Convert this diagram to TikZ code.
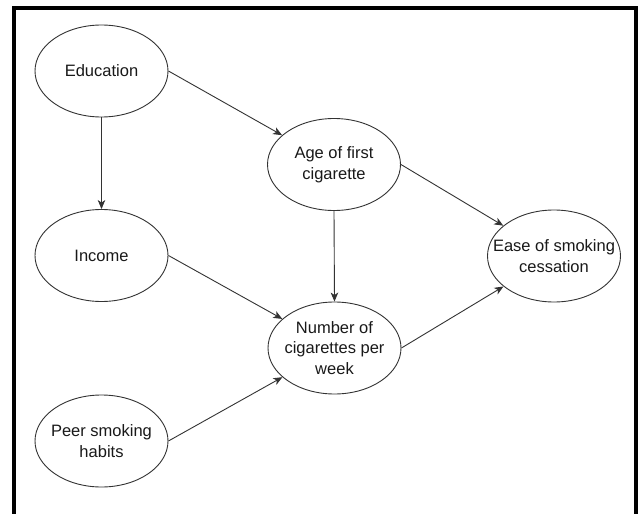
\documentclass[tikz,border=0pt]{standalone}
\usepackage{fontspec}
\setmainfont{Liberation Sans}
\usetikzlibrary{shapes.geometric,arrows.meta}

\tikzset{
  factor/.style={ellipse, draw=black!80, line width=0.9pt, fill=white,
    minimum width=133pt, minimum height=92pt,
    inner xsep=-30pt, inner ysep=0pt,
    align=center, text=black!90,
    font=\fontsize{16.5pt}{20.5pt}\selectfont},
  link/.style={draw=black!80, line width=0.9pt,
    -{Stealth[length=9pt,width=7.5pt,inset=2.5pt]}},
  frameline/.style={line width=4pt, black}
}

\begin{document}
\begin{tikzpicture}[x=1pt,y=-1pt]
  \useasboundingbox (0,0) rectangle (641,514);
  \fill[white] (0,0) rectangle (641,514);

  % surrounding frame (open at the bottom)
  \draw[frameline] (14,514) -- (14,7.5) -- (636,7.5) -- (636,514);

  % factors
  \node[factor] (edu)    at (101.5,71)  {Education};
  \node[factor] (income) at (101.5,255.5) {Income};
  \node[factor] (peer)   at (101.5,441) {Peer smoking\\habits};
  \node[factor] (age)    at (334,164.5) {Age of first\\cigarette};
  \node[factor] (num)    at (334.5,348) {Number of\\cigarettes per\\week};
  \node[factor] (ease)   at (554,256)   {Ease of smoking\\cessation};

  % causal links
  \draw[link] (edu.south) -- (income.north);
  \draw[link] (edu.east) -- (age);
  \draw[link] (age.south) -- (num.north);
  \draw[link] (age.east) -- (ease);
  \draw[link] (income.east) -- (num);
  \draw[link] (peer.east) -- (num);
  \draw[link] (num.east) -- (ease);
\end{tikzpicture}
\end{document}
